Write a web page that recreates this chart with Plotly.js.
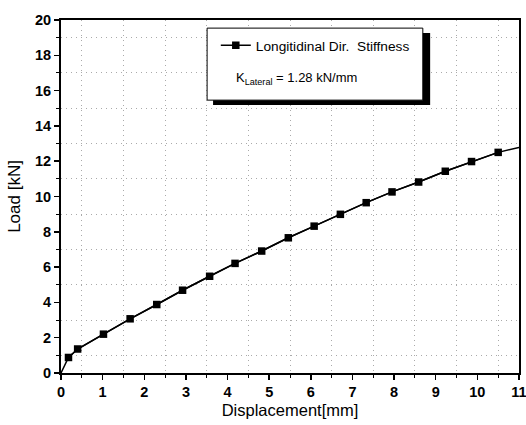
<!DOCTYPE html>
<html>
<head>
<meta charset="utf-8">
<script src="https://cdn.plot.ly/plotly-3.0.1.min.js"></script>
<style>html,body{margin:0;padding:0;background:#fff;}#chart{width:526px;height:425px;}</style>
</head>
<body>
<div id="chart"></div>
<script>
// Full curve (including ends without markers)
var dispAll = [0, 0.18, 0.40, 1.02, 1.66, 2.30, 2.92, 3.57, 4.18, 4.82, 5.46, 6.08, 6.71, 7.33, 7.95, 8.59, 9.23, 9.86, 10.50, 11.0];
var loadAll = [0, 0.88, 1.36, 2.20, 3.07, 3.88, 4.69, 5.48, 6.21, 6.91, 7.66, 8.32, 8.99, 9.65, 10.26, 10.82, 11.43, 11.98, 12.50, 12.78];
// Marked points
var dispPts = [0.18, 0.40, 1.02, 1.66, 2.30, 2.92, 3.57, 4.18, 4.82, 5.46, 6.08, 6.71, 7.33, 7.95, 8.59, 9.23, 9.86, 10.50];
var loadPts = [0.88, 1.36, 2.20, 3.07, 3.88, 4.69, 5.48, 6.21, 6.91, 7.66, 8.32, 8.99, 9.65, 10.26, 10.82, 11.43, 11.98, 12.50];
var seriesName = "Longitidinal Dir.\u00a0 Stiffness";
var noteText = "K<sub>Lateral</sub> = 1.28 kN/mm";
var xTitle = "Displacement[mm]";
var yTitle = "Load [kN]";

var FONT = "Liberation Sans, Arial, sans-serif";

var traces = [
  {x: dispAll, y: loadAll, mode: "lines", line: {color: "#000", width: 1.5}, showlegend: false, hoverinfo: "skip"},
  {x: dispPts, y: loadPts, mode: "lines+markers", name: seriesName,
   line: {color: "#000", width: 1.5}, marker: {symbol: "square", size: 7.5, color: "#000"}}
];

var axisCommon = {
  showline: true, linecolor: "#000", linewidth: 2, mirror: true,
  ticks: "outside", ticklen: 5, tickwidth: 1.5, tickcolor: "#000",
  showgrid: false, zeroline: false, ticklabeloverflow: "allow",
  tickfont: {family: "Arial", size: 14.5, color: "#000", weight: "bold"}
};

var layout = {
  width: 526, height: 425,
  margin: {l: 61, r: 7, t: 20, b: 52},
  paper_bgcolor: "#fff", plot_bgcolor: "#fff",
  font: {family: FONT, color: "#000"},
  xaxis: Object.assign({}, axisCommon, {
    range: [0, 11], dtick: 1, tick0: 0,
    minor: {dtick: 0.5, ticks: "outside", ticklen: 3, tickwidth: 1, tickcolor: "#000",
            showgrid: true, gridcolor: "#aaa", gridwidth: 1, griddash: "1px,4px"},
    title: {text: xTitle, font: {family: FONT, size: 16.5, color: "#000"}, standoff: 5}
  }),
  yaxis: Object.assign({}, axisCommon, {
    range: [0, 20], dtick: 2, tick0: 0,
    minor: {dtick: 1, ticks: "outside", ticklen: 3, tickwidth: 1, tickcolor: "#000",
            showgrid: true, gridcolor: "#aaa", gridwidth: 1, griddash: "1px,4px"},
    title: {text: yTitle, font: {family: FONT, size: 17, color: "#000"}, standoff: 10}
  }),
  showlegend: true,
  legend: {x: 0.338, y: 0.972, xanchor: "left", yanchor: "top",
           bgcolor: "rgba(0,0,0,0)", borderwidth: 0,
           font: {family: FONT, size: 13.7, color: "#000"}},
  shapes: [
    {type: "rect", xref: "paper", yref: "paper", x0: 0.332, x1: 0.806, y0: 0.759, y1: 0.963,
     fillcolor: "#000", line: {width: 0}, layer: "above"},
    {type: "rect", xref: "paper", yref: "paper", x0: 0.319, x1: 0.790, y0: 0.773, y1: 0.977,
     fillcolor: "#fff", line: {color: "#000", width: 1}, layer: "above"}
  ],
  annotations: [
    {xref: "paper", yref: "paper", x: (234 - 61) / 458, y: (373 - 79) / 353,
     xanchor: "left", yanchor: "middle", showarrow: false, text: noteText,
     font: {family: FONT, size: 13, color: "#000"}}
  ]
};

Plotly.newPlot("chart", traces, layout, {displayModeBar: false, staticPlot: true});
</script>
</body>
</html>
